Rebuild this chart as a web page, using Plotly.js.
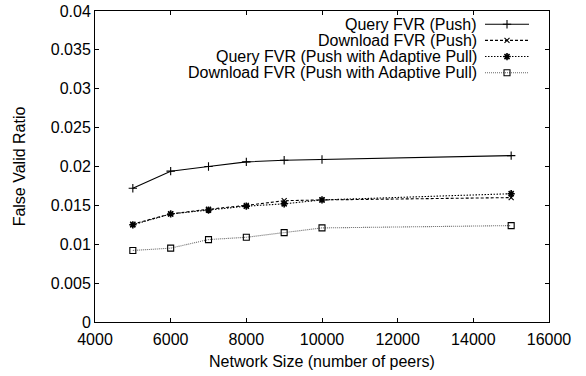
<!DOCTYPE html>
<html><head><meta charset="utf-8">
<script src="https://cdn.plot.ly/plotly-3.0.1.min.js"></script>
<style>html,body{margin:0;padding:0;background:#fff}#chart{width:586px;height:376px}</style>
</head><body><div id="chart"></div>
<script>
var networkSize = [5000, 6000, 7000, 8000, 9000, 10000, 15000];
var queryPush = [0.0172, 0.0194, 0.0200, 0.0206, 0.0208, 0.0209, 0.0214];
var downloadPush = [0.0126, 0.0139, 0.0145, 0.0150, 0.0156, 0.0157, 0.0160];
var queryAdaptive = [0.0125, 0.0139, 0.0144, 0.0149, 0.0152, 0.0157, 0.0165];
var downloadAdaptive = [0.0092, 0.0095, 0.0106, 0.0109, 0.0115, 0.0121, 0.0124];
var seriesNames = ['Query FVR (Push)', 'Download FVR (Push)', 'Query FVR (Push with Adaptive Pull)', 'Download FVR (Push with Adaptive Pull)'];
var xTicks = [4000, 6000, 8000, 10000, 12000, 14000, 16000];
var yTicks = [0, 0.005, 0.01, 0.015, 0.02, 0.025, 0.03, 0.035, 0.04];

var styles = [
  {line:{color:'#000', width:1.1, dash:'solid'}, marker:{symbol:'cross-thin', size:6, color:'#000', line:{width:1.1, color:'#000'}}},
  {line:{color:'#000', width:1.1, dash:'3px,2px'}, marker:{symbol:'x-thin', size:5, color:'#000', line:{width:1.1, color:'#000'}}},
  {line:{color:'#000', width:1.1, dash:'1.5px,1.5px'}, marker:{symbol:'asterisk-open', size:6, color:'#000', line:{width:1.6, color:'#000'}}},
  {line:{color:'#666', width:1.1, dash:'1px,1px'}, marker:{symbol:'square-open', size:6, color:'#000', line:{width:1.1, color:'#000'}}}
];
var ys = [queryPush, downloadPush, queryAdaptive, downloadAdaptive];
var font = {family:'Liberation Sans, Arial, sans-serif', size:16, color:'#000'};
var traces = [];
for (var i = 0; i < 4; i++) {
  traces.push({x: networkSize, y: ys[i], type:'scatter', mode:'lines+markers', name: seriesNames[i],
    line: styles[i].line, marker: styles[i].marker, showlegend:false, hoverinfo:'skip'});
}
var annotations = [];
for (var i = 0; i < 4; i++) {
  traces.push({x:[0, 1], y:[i, i], xaxis:'x2', yaxis:'y2', mode:'lines', line: styles[i].line, showlegend:false, hoverinfo:'skip'});
  traces.push({x:[0.5], y:[i], xaxis:'x2', yaxis:'y2', mode:'markers', marker: styles[i].marker, showlegend:false, hoverinfo:'skip'});
  annotations.push({xref:'paper', yref:'y2', x:0.8458, y:i, xanchor:'right', yanchor:'middle', text: seriesNames[i], showarrow:false,
    font:font});
}

var layout = {
  width:586, height:376,
  margin:{l:95, r:37, t:11, b:54},
  paper_bgcolor:'#fff', plot_bgcolor:'#fff',
  font: font,
  showlegend:false,
  xaxis:{range:[4000,16000], tickvals:xTicks, ticktext:xTicks.map(String), ticks:'inside', ticklen:4, tickcolor:'#000',
    showline:true, linecolor:'#000', linewidth:1, mirror:'ticks', showgrid:false, zeroline:false, ticklabelstandoff:3,
    tickfont:font, title:{text:'Network Size (number of peers)', font:font, standoff:8}},
  yaxis:{range:[0,0.04], tickvals:yTicks, ticktext:yTicks.map(function(v){return v===0?'0':String(v);}), ticks:'inside', ticklen:4, tickcolor:'#000',
    showline:true, linecolor:'#000', linewidth:1, mirror:'ticks', showgrid:false, zeroline:false,
    tickfont:font, title:{text:'False Valid Ratio', font:font, standoff:21}},
  xaxis2:{domain:[0.859, 0.956], range:[0,1], visible:false, anchor:'y2', fixedrange:true},
  yaxis2:{domain:[0.7, 1.0], range:[4.96, -0.824], visible:false, anchor:'x2', fixedrange:true},
  annotations: annotations
};
Plotly.newPlot('chart', traces, layout, {staticPlot:true, displayModeBar:false});
</script></body></html>
